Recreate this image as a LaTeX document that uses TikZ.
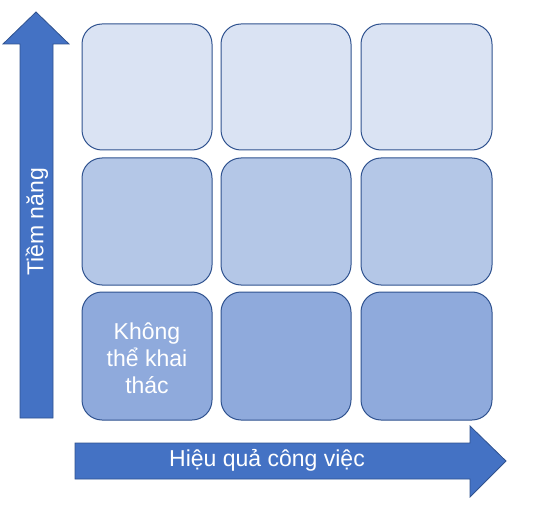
\documentclass[tikz,border=0pt]{standalone}
\usepackage{fontspec}
\setmainfont{Liberation Sans}
\definecolor{rowA}{HTML}{DAE3F3}
\definecolor{rowB}{HTML}{B4C7E7}
\definecolor{rowC}{HTML}{8FAADC}
\definecolor{edgeblue}{HTML}{2F528F}
\definecolor{arrowblue}{HTML}{4472C4}
\begin{document}
\begin{tikzpicture}[x=1pt,y=-1pt,
  cell/.style={draw=edgeblue, line width=1pt, rounded corners=20pt},
  bigarrow/.style={fill=arrowblue, draw=edgeblue, line width=0.8pt},
  lbl/.style={text=white, font=\fontsize{23}{27}\selectfont, align=center, inner sep=0pt}]
\useasboundingbox (0,0) rectangle (534,510);
% cells
\foreach \x/\X [count=\i] in {82/212,221/351,361/492}{
  \draw[cell, fill=rowA] (\x,24) rectangle (\X,150) node[coordinate] (a\i) {};
  \draw[cell, fill=rowB] (\x,158) rectangle (\X,285) node[coordinate] (b\i) {};
  \draw[cell, fill=rowC] (\x,292) rectangle (\X,420) node[coordinate] (c\i) {};
}
\node[lbl] (cell31) at (147,358) {Không\\thể khai\\thác};
% vertical arrow
\draw[bigarrow] (20,418) -- (20,44) -- (3,44) -- (36,12) -- (69,44) -- (53,44) -- (53,418) -- cycle;
\node[lbl, rotate=90] (ylab) at (37,222) {Tiềm năng};
% horizontal arrow
\draw[bigarrow] (75,443) -- (470,443) -- (470,426) -- (506,461) -- (470,497) -- (470,479) -- (75,479) -- cycle;
\node[lbl] (xlab) at (267,460) {Hiệu quả công việc};
\end{tikzpicture}
\end{document}
